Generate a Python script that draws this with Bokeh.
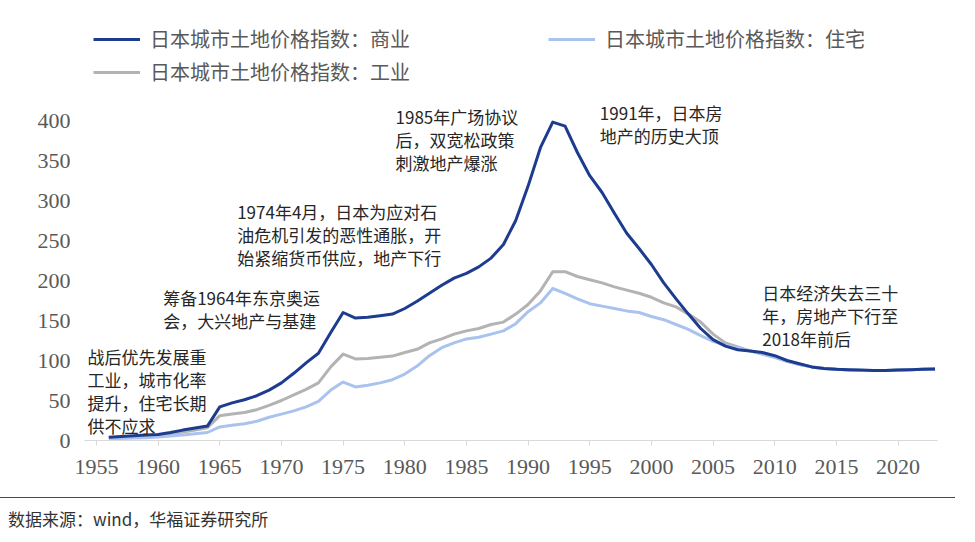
from bokeh.plotting import figure
from bokeh.models import Range1d, FixedTicker, Legend, LegendItem, Label, Div
from bokeh.layouts import column
from bokeh.embed import file_html
from bokeh.resources import INLINE

# ---------------- data ----------------
years = list(range(1956, 2024))

commercial = [4, 5, 6, 7, 7.5, 10, 13, 15.5, 18,
              42, 47, 51, 56, 63, 72, 84, 97, 109, 135,
              160, 153, 154, 156, 158, 165, 174, 184, 194, 203,
              209, 217, 228, 245, 275, 318, 366, 398, 393, 360,
              331, 310, 284, 259, 240, 220, 197, 177, 158, 140,
              126, 118, 113.5, 112, 110, 106, 100, 96, 92, 90,
              89, 88.5, 88, 87.5, 87.5, 88, 88.5, 89, 89.5]

residential = [2, 2.5, 3, 3.5, 4.5, 5.5, 7, 8.5, 10,
               17, 19, 21, 24, 29, 33, 37, 42, 49, 63,
               73, 67, 69, 72, 76, 83, 93, 106, 116, 122,
               127, 129, 133, 137, 146, 161, 172, 190, 184, 177,
               171, 168, 165, 162, 160, 155, 151, 145, 139, 131,
               124, 119, 116, 112, 108, 104, 99, 95, 92, 90,
               89, 88, 87.5, 87.5, 87.5, 88, 88.5, 89, 89.5]

industrial = [3, 4, 5, 6, 7, 8.5, 10.5, 13, 16,
              31, 33, 35, 38.5, 44, 50, 57, 64, 72, 92,
              108, 102, 102.5, 104, 105.5, 110, 114, 122, 127, 133,
              137, 140, 145, 148, 158, 170, 187, 211, 211, 205,
              201, 197, 192, 188, 184, 179, 172, 167, 158, 148,
              133, 122, 117, 112, 108, 104, 99, 95, 92, 90,
              89, 88, 87.5, 87.5, 87.5, 88, 88.5, 89, 89.5]

series_names = ["日本城市土地价格指数：商业",
                "日本城市土地价格指数：住宅",
                "日本城市土地价格指数：工业"]

x_ticks = [1955, 1960, 1965, 1970, 1975, 1980, 1985, 1990,
           1995, 2000, 2005, 2010, 2015, 2020]
y_ticks = [0, 50, 100, 150, 200, 250, 300, 350, 400]

note_texts = [
    ["战后优先发展重", "工业，城市化率", "提升，住宅长期", "供不应求"],
    ["筹备1964年东京奥运", "会，大兴地产与基建"],
    ["1974年4月，日本为应对石", "油危机引发的恶性通胀，开", "始紧缩货币供应，地产下行"],
    ["1985年广场协议", "后，双宽松政策", "刺激地产爆涨"],
    ["1991年，日本房", "地产的历史大顶"],
    ["日本经济失去三十", "年，房地产下行至", "2018年前后"],
]
source_text = "数据来源：wind，华福证券研究所"

# ---------------- layout / style ----------------
note_anchor = [(1954.27, 105), (1960.41, 179), (1966.41, 286.5),
               (1979.25, 405), (1995.82, 410.5), (2008.99, 185.5)]
note_gap = 23

C_BLUE = "#1d3c8f"
C_GRAY = "#b3b3b3"
C_LIGHT = "#a9c3ee"
CJK = "Noto Sans CJK SC"

p = figure(width=975, height=490, output_backend="svg", toolbar_location=None,
           x_range=Range1d(1954.03, 2023.2), y_range=Range1d(0, 525),
           min_border_left=84, min_border_right=38,
           min_border_top=20, min_border_bottom=50)
p.outline_line_color = None
p.xgrid.visible = False
p.ygrid.visible = False
p.background_fill_color = "white"
p.border_fill_color = "white"

r_i = p.line(years, industrial, line_color=C_GRAY, line_width=3, line_join="round")
r_r = p.line(years, residential, line_color=C_LIGHT, line_width=3, line_join="round")
r_c = p.line(years, commercial, line_color=C_BLUE, line_width=3, line_join="round")

xa = p.xaxis[0]
xa.ticker = FixedTicker(ticks=x_ticks)
xa.axis_line_color = "#d9d9d9"
xa.axis_line_width = 1
xa.major_tick_line_color = "#d9d9d9"
xa.major_tick_out = 5
xa.major_tick_in = 0
xa.minor_tick_line_color = None
xa.major_label_text_font = "Liberation Serif"
xa.major_label_text_font_size = "22px"
xa.major_label_text_color = "#595959"
xa.major_label_standoff = 14

ya = p.yaxis[0]
ya.ticker = FixedTicker(ticks=y_ticks)
ya.axis_line_color = None
ya.major_tick_line_color = None
ya.major_tick_out = 0
ya.major_tick_in = 0
ya.minor_tick_line_color = None
ya.major_label_text_font = "Liberation Serif"
ya.major_label_text_font_size = "22px"
ya.major_label_text_color = "#595959"
ya.major_label_standoff = 14

legend = Legend(items=[LegendItem(label=series_names[0], renderers=[r_c]),
                       LegendItem(label=series_names[1], renderers=[r_r]),
                       LegendItem(label=series_names[2], renderers=[r_i])],
                orientation="horizontal", ncols=2, location=(9, 354),
                border_line_color=None, background_fill_alpha=0,
                padding=0, margin=0, spacing=4,
                glyph_width=47, glyph_height=26,
                label_width=394, label_height=26, label_standoff=10,
                label_text_font=CJK, label_text_font_size="20px",
                label_text_color="#595959")
p.add_layout(legend)

for (nx, ny), lines in zip(note_anchor, note_texts):
    for i, line in enumerate(lines):
        p.add_layout(Label(x=nx, y=ny, x_units="data", y_units="data",
                           y_offset=-i * note_gap, text=line,
                           text_font=CJK, text_font_size="17px",
                           text_color="#262626", text_baseline="middle",
                           text_align="left"))

# footer: rule + source line
footer = Div(
    text=('<div style="margin:7px 0 0 0; width:955px; '
          'border-top:1.5px solid #2f4f80; padding:11px 0 0 8px; '
          'font-family:\'Noto Sans CJK SC\'; font-size:17px; line-height:20px; '
          'color:#333333; white-space:nowrap;">' + source_text + '</div>'),
    width=975, height=52, margin=0)

open("out.html", "w").write(file_html(column(p, footer), INLINE))
